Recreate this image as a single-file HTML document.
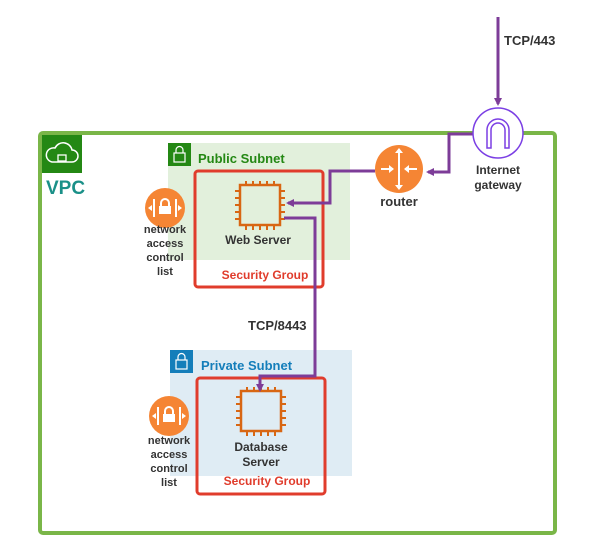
<!DOCTYPE html>
<html><head><style>body{margin:0;background:#fff}</style></head><body>
<svg width="590" height="548" xmlns="http://www.w3.org/2000/svg" font-family="Liberation Sans, sans-serif" font-weight="bold">
<defs>
<g id="chip">
<rect x="4" y="4" width="40" height="40" fill="none" stroke="#d86613" stroke-width="2.5"/>
<g stroke="#d86613" stroke-width="2">
<path d="M10 0v4M17 0v4M24 0v4M31 0v4M38 0v4M10 44v5M17 44v5M24 44v5M31 44v5M38 44v5M-1 10h5M-1 17h5M-1 24h5M-1 31h5M-1 38h5M44 10h5M44 17h5M44 24h5M44 31h5M44 38h5"/>
</g>
</g>
<g id="nacl">
<circle r="20" fill="#f58534"/>
<g stroke="#fff" stroke-width="2"><path d="M-11 -9v18M11 -9v18"/></g>
<path d="M-17 0l4-3v6zM17 0l-4-3v6z" fill="#fff"/>
<rect x="-6" y="-2" width="12" height="8" fill="#fff"/>
<path d="M-4 -2v-3a4 4 0 0 1 8 0v3" fill="none" stroke="#fff" stroke-width="2"/>
</g>
<marker id="ah" markerWidth="8" markerHeight="8" refX="6" refY="4" orient="auto" markerUnits="userSpaceOnUse"><path d="M0 0L8 4L0 8z" fill="#7d3c98"/></marker>
</defs>
<rect x="168" y="143" width="182" height="117" fill="#e2f0dc"/>
<rect x="170" y="350" width="182" height="126" fill="#dfecf4"/>
<rect x="40" y="133" width="515" height="400" rx="3" fill="none" stroke="#7ab648" stroke-width="4"/>
<rect x="42" y="135" width="40" height="38" fill="#248814"/>
<path d="M52 162h20a6 6 0 0 0 0-12a9 9 0 0 0-17-2a7 7 0 0 0-3 14z" fill="none" stroke="#fff" stroke-width="1.5"/>
<rect x="58" y="155" width="8" height="6" fill="none" stroke="#fff" stroke-width="1.3"/>
<text x="46" y="194" font-size="19" fill="#1a9088">VPC</text>
<rect x="168" y="143" width="23" height="23" fill="#248814"/>
<rect x="174" y="153" width="11" height="9" fill="none" stroke="#fff" stroke-width="1.2"/>
<path d="M176 153v-3a3.5 3.5 0 0 1 7 0v3" fill="none" stroke="#fff" stroke-width="1.2"/>
<text x="198" y="163" font-size="13" fill="#248814">Public Subnet</text>
<rect x="170" y="350" width="23" height="23" fill="#147eba"/>
<rect x="176" y="360" width="11" height="9" fill="none" stroke="#fff" stroke-width="1.2"/>
<path d="M178 360v-3a3.5 3.5 0 0 1 7 0v3" fill="none" stroke="#fff" stroke-width="1.2"/>
<text x="201" y="370" font-size="13" fill="#147eba">Private Subnet</text>
<rect x="195" y="171" width="128" height="116" rx="3" fill="none" stroke="#e03c2c" stroke-width="3"/>
<text x="265" y="279" font-size="12" fill="#e03c2c" text-anchor="middle">Security Group</text>
<rect x="197" y="378" width="128" height="116" rx="3" fill="none" stroke="#e03c2c" stroke-width="3"/>
<text x="267" y="485" font-size="12" fill="#e03c2c" text-anchor="middle">Security Group</text>
<use href="#chip" x="236" y="181"/>
<text x="258" y="244" font-size="12" fill="#333" text-anchor="middle">Web Server</text>
<use href="#chip" x="237" y="387"/>
<text x="261" y="451" font-size="12" fill="#333" text-anchor="middle">Database</text>
<text x="261" y="466" font-size="12" fill="#333" text-anchor="middle">Server</text>
<use href="#nacl" x="165" y="208"/>
<g font-size="11" fill="#333" text-anchor="middle"><text x="165" y="233">network</text><text x="165" y="247">access</text><text x="165" y="261">control</text><text x="165" y="275">list</text></g>
<use href="#nacl" x="169" y="416"/>
<g font-size="11" fill="#333" text-anchor="middle"><text x="169" y="444">network</text><text x="169" y="458">access</text><text x="169" y="472">control</text><text x="169" y="486">list</text></g>
<g fill="none" stroke="#7d3c98" stroke-width="3">
<path d="M498 17V104" marker-end="url(#ah)"/>
<path d="M473 134H449V172H428" marker-end="url(#ah)"/>
<path d="M375 171H330V203H288" marker-end="url(#ah)"/>
<path d="M284 218H315V376H260V390" marker-end="url(#ah)"/>
</g>
<circle cx="399" cy="169" r="24" fill="#f58534"/>
<g stroke="#fff" stroke-width="2" fill="#fff"><path d="M399 150v38M381 169h12M405 169h12"/>
<path d="M399 148l-4 5h8zM399 190l-4-5h8zM394 169l-5-4v8zM404 169l5-4v8z" stroke="none"/></g>
<text x="399" y="206" font-size="13" fill="#333" text-anchor="middle">router</text>
<circle cx="498" cy="133" r="25" fill="#fff" stroke="#7b3fe4" stroke-width="1.5"/>
<path d="M487 148V130a11 11 0 0 1 22 0v18h-4V130a7 7 0 0 0-14 0v18z" fill="none" stroke="#7b3fe4" stroke-width="1.5"/>
<text x="498" y="174" font-size="12" fill="#333" text-anchor="middle">Internet</text>
<text x="498" y="189" font-size="12" fill="#333" text-anchor="middle">gateway</text>
<text x="504" y="45" font-size="13" fill="#333">TCP/443</text>
<text x="248" y="330" font-size="13" fill="#333">TCP/8443</text>
</svg>
</body></html>
